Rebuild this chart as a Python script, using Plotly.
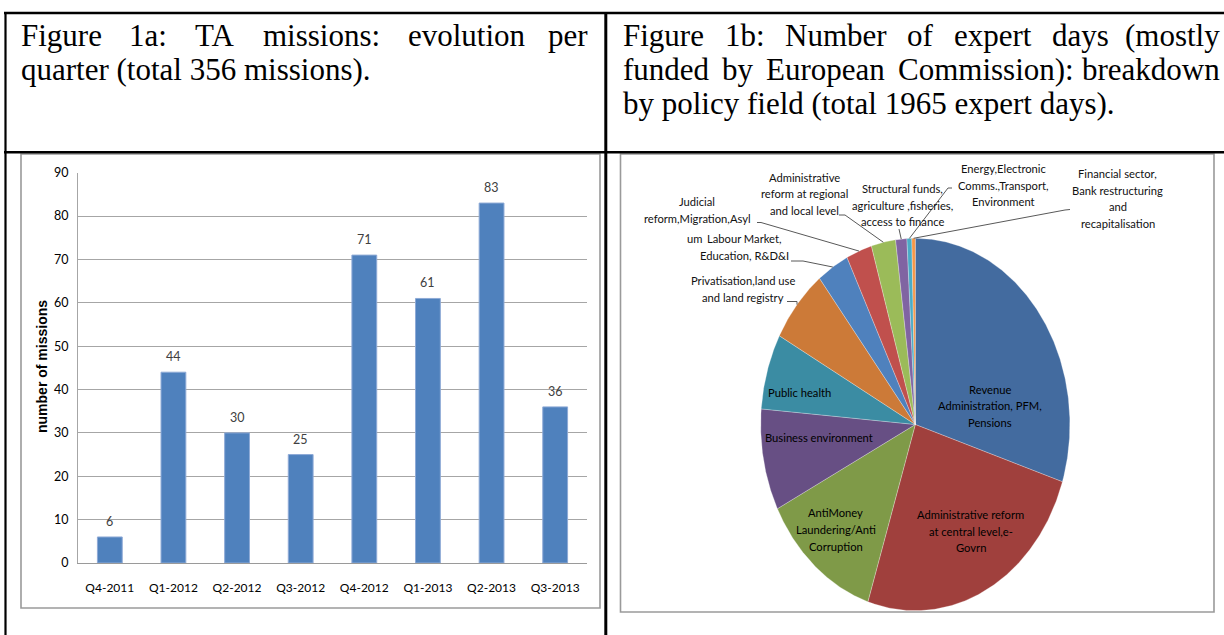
import numpy as np
import plotly.graph_objects as go

# ---------------- data ----------------
quarters = ["Q4-2011", "Q1-2012", "Q2-2012", "Q3-2012",
            "Q4-2012", "Q1-2013", "Q2-2013", "Q3-2013"]
missions = [6, 44, 30, 25, 71, 61, 83, 36]
mission_ticks = [0, 10, 20, 30, 40, 50, 60, 70, 80, 90]

policy_fields = [
    "Revenue Administration, PFM, Pensions",
    "Administrative reform at central level,e-Govrn",
    "AntiMoney Laundering/Anti Corruption",
    "Business environment",
    "Public health",
    "Privatisation,land use and land registry",
    "Labour Market, Education, R&D&I",
    "Judicial reform,Migration,Asylum",
    "Administrative reform at regional and local level",
    "Structural funds, agriculture ,fisheries, access to finance",
    "Energy,Electronic Comms.,Transport, Environment",
    "Financial sector, Bank restructuring and recapitalisation",
]
expert_days = [589, 491, 247, 173, 129, 127, 66, 53, 50, 23, 10, 7]
slice_colors = ["#436B9F", "#A0403D", "#7F9A48", "#674F84", "#3B8CA3", "#CC7A38",
                "#4F81BD", "#C0504D", "#9BBB59", "#8064A2", "#4BACC6", "#F79646"]

# ---------------- page geometry (pixels) ----------------
W, H = 1224, 635
SERIF = "Liberation Serif, Times New Roman, serif"
LABEL = "Lato, Carlito, Calibri, sans-serif"
SANS = "Liberation Sans, Arial, sans-serif"


def fx(px):
    return px / W


def fy(py):
    return 1 - py / H


# pie ellipse centre and radii (pixels)
CX, CY, RX, RY = 915.3, 424.5, 154.6, 186.2

fig = go.Figure()

# ---------------- bar chart ----------------
fig.add_trace(go.Bar(
    x=quarters, y=missions, xaxis="x", yaxis="y",
    marker=dict(color="#4F81BD", line=dict(color="#8EAAD6", width=1)),
    hoverinfo="x+y",
))

annotations = []
for q, v in zip(quarters, missions):
    annotations.append(dict(
        x=q, y=v, xref="x", yref="y", text=str(v), showarrow=False,
        yanchor="bottom", yshift=6,
        font=dict(family=LABEL, size=12.5, color="#404040"),
    ))


def page_text(x, y, s, size, family, color="black", xanchor="center", **kw):
    annotations.append(dict(
        x=x, y=y, xref="x2", yref="y2", text=s, showarrow=False,
        xanchor=xanchor, yanchor="middle",
        font=dict(family=family, size=size, color=color), **kw,
    ))


# y axis title
page_text(42, 367, "<b>number of missions</b>", 14, SANS, textangle=-90)

# ---------------- captions ----------------
CAP = 31
Y1, Y2, Y3 = 35, 69, 103
cap_a1 = [("Figure", 19), ("1a:", 127.3), ("TA", 192.6), ("missions:", 261.3), ("evolution", 405.8)]
for w, x in cap_a1:
    page_text(x, Y1, w, CAP, SERIF, xanchor="left")
page_text(590, Y1, "per", CAP, SERIF, xanchor="right")
page_text(19, Y2, "quarter (total 356 missions).", CAP, SERIF, xanchor="left")

cap_b1 = [("Figure", 621), ("1b:", 722.6), ("Number", 782.9), ("of", 905.2),
          ("expert", 951.7), ("days", 1049.9)]
for w, x in cap_b1:
    page_text(x, Y1, w, CAP, SERIF, xanchor="left")
page_text(1222, Y1, "(mostly", CAP, SERIF, xanchor="right")
cap_b2 = [("funded", 621), ("by", 720.1), ("European", 764.1), ("Commission):", 895.9)]
for w, x in cap_b2:
    page_text(x, Y2, w, CAP, SERIF, xanchor="left")
page_text(1222, Y2, "breakdown", CAP, SERIF, xanchor="right")
page_text(621, Y3, "by policy field (total 1965 expert days).", CAP, SERIF, xanchor="left")

# ---------------- pie (ellipse) ----------------
total = float(sum(expert_days))
bounds = np.concatenate([[0.0], np.cumsum(expert_days) / total * 360.0])


def arc_point(deg):
    r = np.radians(deg)
    return CX + RX * np.sin(r), CY - RY * np.cos(r)


for i, (name, val, col) in enumerate(zip(policy_fields, expert_days, slice_colors)):
    a0, a1 = bounds[i], bounds[i + 1]
    th = np.linspace(a0, a1, max(3, int((a1 - a0) / 0.5) + 2))
    px, py = arc_point(th)
    fig.add_trace(go.Scatter(
        x=np.concatenate([[CX], px, [CX]]), y=np.concatenate([[CY], py, [CY]]),
        xaxis="x2", yaxis="y2", mode="lines", fill="toself", fillcolor=col,
        line=dict(color="rgba(255,255,255,0.45)", width=0.6),
        name=name, text=f"{name}: {val}", hoverinfo="text", hoveron="fills",
    ))

PIE_FONT = 11.2
inside_labels = {
    0: (["Revenue", "Administration, PFM,", "Pensions"], 990, [389, 405.7, 422.3]),
    1: (["Administrative reform", "at central level,e-", "Govrn"], 970.7, [514.3, 531, 547.7]),
    2: (["AntiMoney", "Laundering/Anti", "Corruption"], 835.7, [512.7, 529.3, 546]),
    3: (["Business environment"], 819, [437.3]),
    4: (["Public health"], 799.3, [392.3]),
}
for i, (lines, x, ys) in inside_labels.items():
    for s, y in zip(lines, ys):
        page_text(x, y, s, PIE_FONT, LABEL, color="#000000")

outside_labels = {
    5: (["Privatisation,land use", "and land registry"], 743, [280, 297],
        [(787, 301.5), (797, 301.5)]),
    6: (["Labour Market,", "Education, R&D&I"], 744, [238, 255],
        [(791, 261), (803, 261)]),
    7: (["Judicial", "reform,Migration,Asyl", "um"], 697, [201.7, 218.3, 238.3],
        [(757, 222.5), (761, 222.5)]),
    8: (["Administrative", "reform at regional", "and local level"], 804, [177.7, 193.3, 210],
        [(839, 215), (845, 215)]),
    9: (["Structural funds,", "agriculture ,fisheries,", "access to finance"], 902,
        [188.3, 205, 221.7], [(899, 229)]),
    10: (["Energy,Electronic", "Comms.,Transport,", "Environment"], 1003.5,
         [168.3, 185, 201.7], [(952, 188), (948, 188)]),
    11: (["Financial sector,", "Bank restructuring", "and", "recapitalisation"], 1117.5,
         [173.3, 190, 206.7, 223.3], [(1070, 209.5), (1065, 210)]),
}
for i, (lines, x, ys, start) in outside_labels.items():
    for s, y in zip(lines, ys):
        xx = 694 if s == "um" else x
        page_text(xx, y, s, PIE_FONT, LABEL, color="#111111")
    mx, my = arc_point((bounds[i] + bounds[i + 1]) / 2.0)
    lx = [p[0] for p in start] + [mx]
    ly = [p[1] for p in start] + [my]
    fig.add_trace(go.Scatter(
        x=lx, y=ly, xaxis="x2", yaxis="y2", mode="lines",
        line=dict(color="#595959", width=1), hoverinfo="skip",
    ))

# ---------------- table rules and chart frames ----------------
shapes = []


def rule(x0, y0, x1, y1, width, color="black"):
    shapes.append(dict(type="line", xref="x2", yref="y2", x0=x0, y0=y0, x1=x1, y1=y1,
                       line=dict(color=color, width=width)))


rule(4, 13, W, 13, 2.5)
rule(5.5, 12, 5.5, H, 2.2)
rule(605.8, 12, 605.8, H, 3)
rule(4, 152.3, W, 152.3, 2.5)
for x0, y0, x1, y1 in [(21, 154, 600, 608), (620.5, 154, 1214, 612)]:
    shapes.append(dict(type="rect", xref="x2", yref="y2", x0=x0, y0=y0, x1=x1, y1=y1,
                       line=dict(color="#9a9a9a", width=1.6), fillcolor="rgba(0,0,0,0)",
                       layer="below"))

fig.update_layout(
    width=W, height=H, autosize=False,
    margin=dict(l=0, r=0, t=0, b=0, pad=0),
    paper_bgcolor="white", plot_bgcolor="rgba(0,0,0,0)",
    showlegend=False, bargap=0.61,
    xaxis=dict(domain=[fx(78), fx(587)], anchor="y", type="category", range=[-0.5, 7.5],
               showgrid=False, zeroline=False, showline=True, linecolor="#9a9a9a",
               linewidth=1.3, ticks="", ticklabelstandoff=13, automargin=False,
               tickfont=dict(family=LABEL, size=12, color="black")),
    yaxis=dict(domain=[fy(563), fy(172.7)], anchor="x", range=[0, 90],
               tickvals=mission_ticks, showgrid=True, gridcolor="#a6a6a6", gridwidth=1,
               zeroline=False, showline=True, linecolor="#a6a6a6", linewidth=1,
               ticks="", ticklabelstandoff=6, automargin=False,
               tickfont=dict(family=LABEL, size=12.5, color="black")),
    xaxis2=dict(domain=[0, 1], anchor="y2", range=[0, W], visible=False, automargin=False),
    yaxis2=dict(domain=[0, 1], anchor="x2", range=[H, 0], visible=False, automargin=False),
    annotations=annotations,
    shapes=shapes,
)

fig.write_html("out.html")
